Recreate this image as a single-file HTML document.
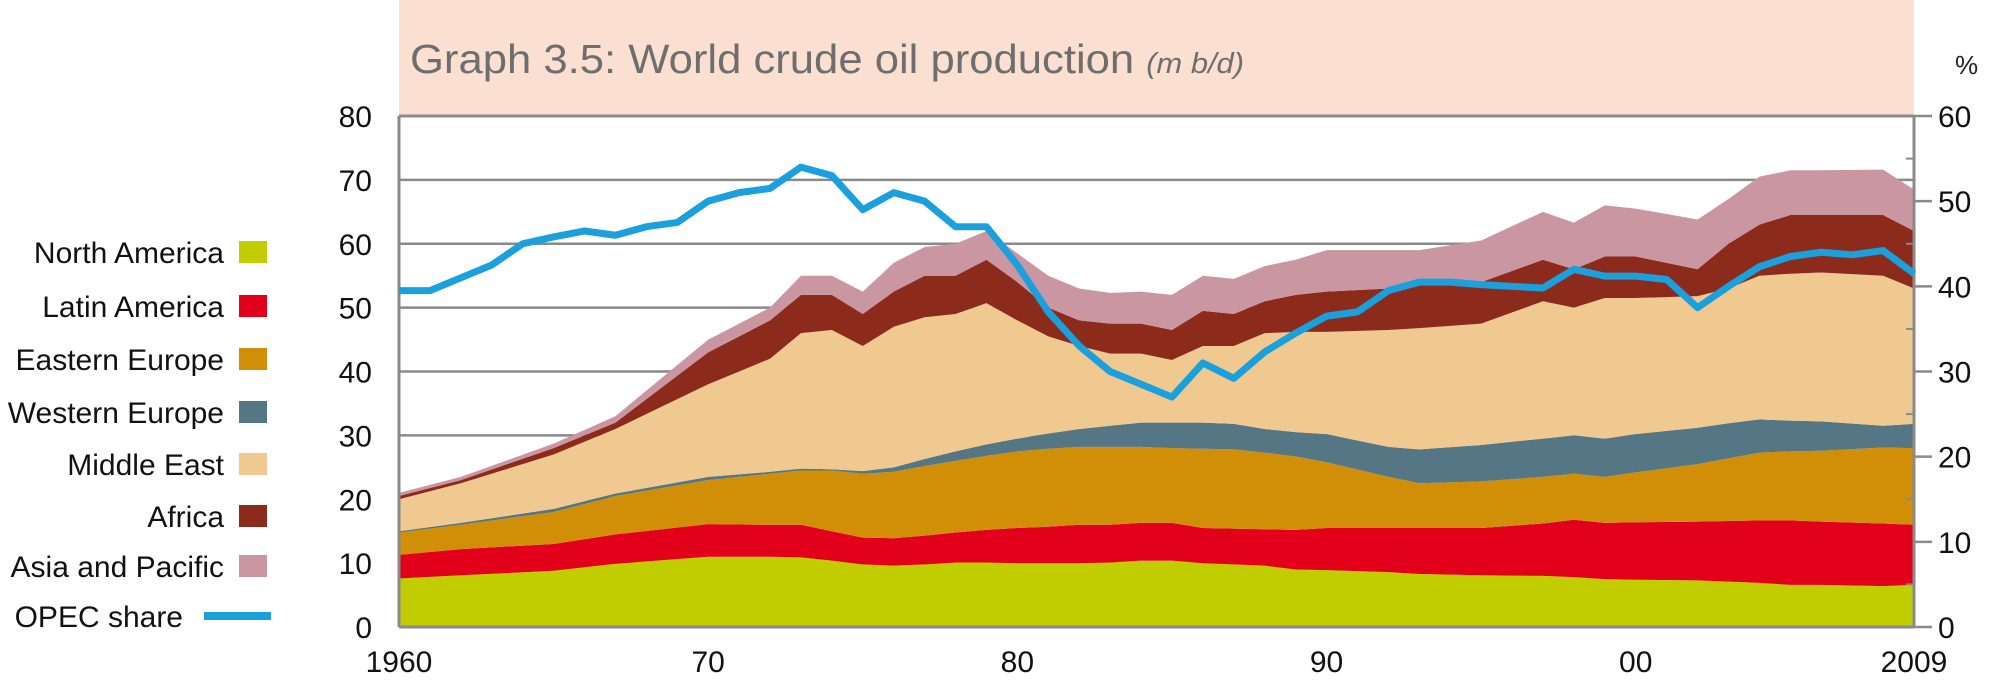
<!DOCTYPE html>
<html><head><meta charset="utf-8"><style>
html,body{margin:0;padding:0;background:#fff;}
svg{display:block;font-family:"Liberation Sans",sans-serif;}
</style></head><body>
<svg id="chart" width="2000" height="690" viewBox="0 0 2000 690" xmlns="http://www.w3.org/2000/svg">
<rect x="399" y="0" width="1515" height="116" fill="#fbe0d2"/>
<text x="410" y="73" font-size="41" fill="#6e6e6e" textLength="834" lengthAdjust="spacingAndGlyphs">Graph 3.5: World crude oil production <tspan font-size="29" font-style="italic">(m b/d)</tspan></text>
<text x="1955" y="74" font-size="26" fill="#222">%</text>
<g id="grid"></g>
<g id="areas"></g>
<g id="frame"></g>
<g id="line"></g>
<g id="ticks"></g>
<g id="legend"></g>
</svg>
<script>
const years=[1960,1962,1965,1967,1970,1972,1973,1974,1975,1976,1977,1978,1979,1980,1981,1982,1983,1984,1985,1986,1987,1988,1989,1990,1992,1993,1995,1997,1998,1999,2000,2002,2003,2004,2005,2006,2008,2009];
const northAmerica=[7.6,8.1,8.8,9.9,11.0,11.0,10.9,10.4,9.8,9.6,9.8,10.1,10.1,10.0,10.0,10.0,10.1,10.4,10.4,10.0,9.8,9.6,9.0,8.9,8.6,8.3,8.1,8.0,7.8,7.5,7.4,7.3,7.1,6.9,6.6,6.6,6.4,6.6];
const latinAmerica=[3.7,4.1,4.2,4.6,5.1,5.0,5.1,4.6,4.2,4.3,4.5,4.7,5.1,5.5,5.7,6.0,5.9,5.9,5.9,5.5,5.6,5.7,6.2,6.6,6.9,7.2,7.4,8.2,9.0,8.8,9.0,9.2,9.5,9.8,10.1,9.9,9.8,9.4];
const easternEurope=[3.5,3.8,5.0,6.0,6.9,8.0,8.5,9.5,10.0,10.4,10.9,11.2,11.6,12.0,12.2,12.2,12.2,11.9,11.7,12.4,12.4,12.0,11.5,10.3,8.0,7.0,7.3,7.3,7.2,7.2,7.8,9.0,9.8,10.6,10.8,11.1,11.9,12.0];
const westernEurope=[0.2,0.3,0.5,0.4,0.5,0.3,0.3,0.2,0.4,0.7,1.1,1.5,1.8,2.0,2.4,2.8,3.3,3.8,4.0,4.1,4.0,3.7,3.8,4.4,4.7,5.3,5.7,6.0,6.0,6.0,6.0,5.7,5.5,5.2,4.8,4.6,3.4,3.8];
const middleEast=[5.0,6.2,8.5,10.1,14.5,17.7,21.2,21.8,19.6,22.0,22.2,21.5,22.1,18.5,15.2,13.0,11.3,10.8,9.8,12.0,12.2,15.0,15.7,16.0,18.3,19.0,19.0,21.5,20.0,22.0,21.3,20.6,21.1,22.5,23.0,23.3,23.5,21.2];
const africa=[0.5,0.5,1.0,1.0,5.0,6.0,6.0,5.5,5.0,5.5,6.5,6.0,6.8,6.0,4.5,4.0,4.7,4.7,4.7,5.5,5.0,5.0,5.8,6.3,6.5,6.7,6.5,6.5,6.0,6.5,6.5,4.2,7.0,8.0,9.2,9.0,9.5,9.0];
const asiaPacific=[0.5,0.5,0.7,1.0,2.0,2.0,3.0,3.0,3.5,4.5,4.5,5.0,4.5,4.5,5.0,5.0,4.8,5.0,5.5,5.5,5.5,5.5,5.5,6.5,6.0,5.5,6.5,7.5,7.3,8.0,7.5,7.8,7.0,7.5,7.0,7.0,7.1,6.5];
const opecYears=[1960,1961,1962,1963,1964,1965,1966,1967,1968,1969,1970,1971,1972,1973,1974,1975,1976,1977,1978,1979,1980,1981,1982,1983,1984,1985,1986,1987,1988,1989,1990,1991,1992,1993,1994,1995,1996,1997,1998,1999,2000,2001,2002,2003,2004,2005,2006,2007,2008,2009];
const opecShare=[39.5,39.5,41,42.5,45,45.8,46.5,46,47,47.5,50,51,51.5,54,53,49,51,50,47,47,42.5,37,33,30,28.5,27,31,29.2,32.3,34.5,36.5,37,39.5,40.5,40.5,40.2,40,39.8,42,41.2,41.2,40.8,37.5,40,42.3,43.5,44,43.7,44.2,41.5];
const leftTicks=[0,10,20,30,40,50,60,70,80];
const rightTicks=[0,10,20,30,40,50,60];
const xTickYears=[1960,1970,1980,1990,2000,2009];
const xTickLabels=["1960","70","80","90","00","2009"];
const seriesNames=["North America","Latin America","Eastern Europe","Western Europe","Middle East","Africa","Asia and Pacific"];
const seriesColors=["#c2cd00","#e2001a","#d08f07","#557685","#f0c991","#8c2a1c","#c996a1"];

const L=399,R=1914,Y0=627,Ytop=116;
const NS="http://www.w3.org/2000/svg";
const x=v=>L+(v-1960)/(2009-1960)*(R-L);
const y=v=>Y0-v/80*(Y0-Ytop);
const y2=v=>Y0-v/60*(Y0-Ytop);
function mk(tag,attrs,parent){const e=document.createElementNS(NS,tag);for(const k in attrs)e.setAttribute(k,attrs[k]);parent.appendChild(e);return e;}
const grid=document.getElementById('grid'),areas=document.getElementById('areas'),frame=document.getElementById('frame'),lineG=document.getElementById('line'),ticks=document.getElementById('ticks'),legend=document.getElementById('legend');

leftTicks.forEach(t=>{
  if(t>0&&t<80){const g=mk('line',{x1:L,x2:R,y1:y(t),y2:y(t),stroke:'#8a8a8a','stroke-width':2.5},grid);
  
  }
  const lb=mk('text',{x:372,y:y(t)+11,'text-anchor':'end','font-size':30,fill:'#111'},ticks);
  lb.textContent=t;
  
  
});
rightTicks.forEach(t=>{
  const tk=mk('line',{x1:R,x2:R+18,y1:y2(t),y2:y2(t),stroke:'#8a8a8a','stroke-width':2.5},ticks);
  
  
  if(t<60){const mn=mk('line',{x1:R-8,x2:R,y1:y2(t+5),y2:y2(t+5),stroke:'#8a8a8a','stroke-width':2},ticks);
  
  }
  const lb=mk('text',{x:R+24,y:y2(t)+11,'font-size':30,fill:'#111'},ticks);
  lb.textContent=t;
  
  
});
xTickYears.forEach((yr,i)=>{
  const lb=mk('text',{x:x(yr),y:672,'text-anchor':'middle','font-size':30,fill:'#111'},ticks);
  lb.textContent=xTickLabels[i];
  
  
});

const series=[northAmerica,latinAmerica,easternEurope,westernEurope,middleEast,africa,asiaPacific];
let base=years.map(()=>0);
series.forEach((s,si)=>{
  const top=base.map((b,i)=>b+s[i]);
  let d='M'+years.map((yr,i)=>x(yr)+','+y(top[i])).join('L');
  for(let i=years.length-1;i>=0;i--)d+='L'+x(years[i])+','+y(base[i]);
  d+='Z';
  const p=mk('path',{d:d,fill:seriesColors[si]},areas);
  
  
  base=top;
});

[[L,Ytop,R,Ytop],[L,Y0,R,Y0],[L,Ytop,L,Y0],[R,Ytop,R,Y0]].forEach(c=>{
  const f=mk('line',{x1:c[0],y1:c[1],x2:c[2],y2:c[3],stroke:'#8a8a8a','stroke-width':3},frame);
  
  
});

const op=mk('polyline',{points:opecYears.map((yr,i)=>x(yr)+','+y2(opecShare[i])).join(' '),fill:'none',stroke:'#1aa0dc','stroke-width':7,'stroke-linejoin':'round'},lineG);



const rowsY=[252,306,359,412,464,516,566];
seriesNames.forEach((n,i)=>{
  const g=mk('g',{},legend);
  
  
  const t=mk('text',{x:224,y:rowsY[i]+11,'text-anchor':'end','font-size':30,fill:'#111'},g);
  t.textContent=n;
  mk('rect',{x:239,y:rowsY[i]-11,width:28,height:22,fill:seriesColors[i]},g);
});
const og=mk('g',{},legend);


const ot=mk('text',{x:183,y:627,'text-anchor':'end','font-size':30,fill:'#111'},og);
ot.textContent='OPEC share';
mk('line',{x1:204,x2:271,y1:616,y2:616,stroke:'#1aa0dc','stroke-width':8},og);
</script>
</body></html>
